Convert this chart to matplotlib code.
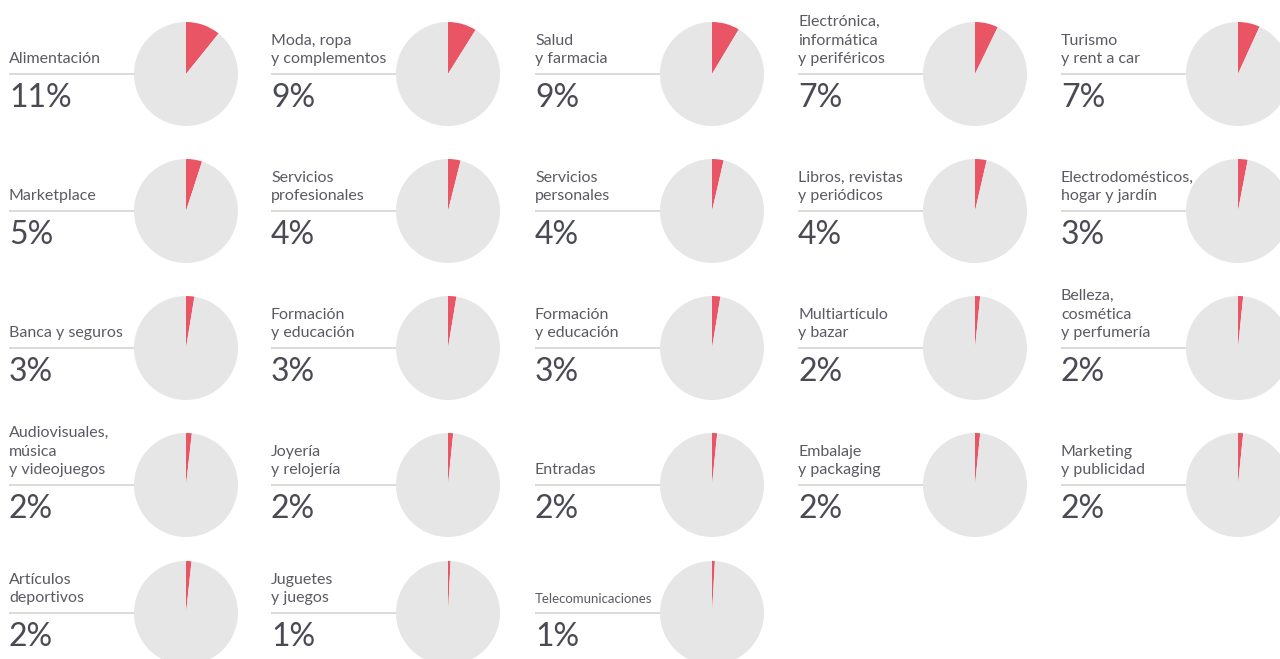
import matplotlib.pyplot as plt

plt.rcParams['font.family'] = ['Lato', 'DejaVu Sans']

labels = ['Alimentación', 'Moda, ropa\ny complementos', 'Salud\ny farmacia',
          'Electrónica,\ninformática\ny periféricos', 'Turismo\ny rent a car',
          'Marketplace', 'Servicios\nprofesionales', 'Servicios\npersonales',
          'Libros, revistas\ny periódicos', 'Electrodomésticos,\nhogar y jardín',
          'Banca y seguros', 'Formación\ny educación', 'Formación\ny educación',
          'Multiartículo\ny bazar', 'Belleza,\ncosmética\ny perfumería',
          'Audiovisuales,\nmúsica\ny videojuegos', 'Joyería\ny relojería', 'Entradas',
          'Embalaje\ny packaging', 'Marketing\ny publicidad',
          'Artículos\ndeportivos', 'Juguetes\ny juegos', 'Telecomunicaciones']
pct_labels = ['11%', '9%', '9%', '7%', '7%',
              '5%', '4%', '4%', '4%', '3%',
              '3%', '3%', '3%', '2%', '2%',
              '2%', '2%', '2%', '2%', '2%',
              '2%', '1%', '1%']
# share
shares = [10.8, 8.9, 8.6, 7.2, 6.8,
          5.0, 3.9, 3.6, 3.6, 3.0,
          2.6, 2.6, 2.6, 1.6, 1.6,
          1.8, 1.6, 1.6, 1.6, 1.6,
          1.7, 0.8, 0.9]

W, H = 1280, 659
col_x = [9, 271, 535, 798, 1061]
row_y = [74, 211, 348, 485, 613]
r = 52

red = '#ea5566'
grey = '#e6e6e6'

fig = plt.figure(figsize=(12.8, 6.59), dpi=100)
ax = fig.add_axes([0, 0, 1, 1])

for i, lab in enumerate(labels):
    tx = col_x[i % 5]
    cy_px = row_y[i // 5]
    cx = tx + 177
    cy = H - cy_px
    ax.plot([tx, cx], [cy, cy], color='#d8d8d8', lw=1.3, zorder=1,
            solid_capstyle='butt')
    ax.pie([shares[i], 100 - shares[i]], colors=[red, grey], center=(cx, cy),
           radius=r, startangle=90, counterclock=False,
           wedgeprops=dict(linewidth=0), frame=True)
    fs = 9.5 if len(lab) > 17 and '\n' not in lab else 11.5
    ax.text(tx, cy + 8, lab, fontsize=fs, color='#5a5a64', ha='left',
            va='bottom', linespacing=1.4, zorder=3)
    ax.text(tx, cy - 9, pct_labels[i], fontsize=23, color='#4a4a55',
            ha='left', va='top', zorder=3)

ax.set_xlim(0, W)
ax.set_ylim(0, H)
ax.set_aspect('equal')
ax.axis('off')

fig.savefig('out.png', dpi=100, facecolor='white')
